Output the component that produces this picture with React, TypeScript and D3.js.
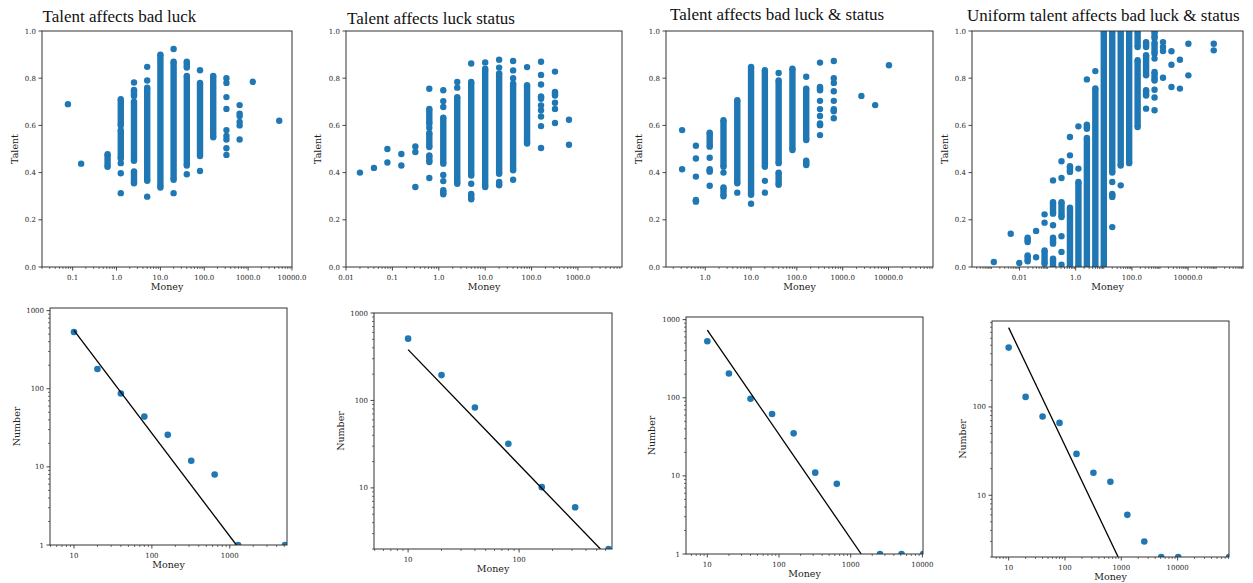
import React from "react";
import * as d3 from "d3";

// talent scatter columns: [money, talent] for a single dot, [money, low, high] for a dense run of dots
type Col = number[];

const badLuckTalent: Col[] = [
  [0.078, 0.69], [0.156, 0.438], [0.625, 0.425, 0.478],
  [1.25, 0.6, 0.711], [1.25, 0.46, 0.58], [1.25, 0.44], [1.25, 0.397], [1.25, 0.313],
  [2.5, 0.782], [2.5, 0.725, 0.75], [2.5, 0.45, 0.7], [2.5, 0.355, 0.405],
  [5, 0.848], [5, 0.79], [5, 0.365, 0.76], [5, 0.298],
  [10, 0.337, 0.9],
  [20, 0.924], [20, 0.37, 0.87], [20, 0.313],
  [40, 0.845, 0.87], [40, 0.43, 0.81], [40, 0.393],
  [80, 0.834], [80, 0.47, 0.78], [80, 0.407],
  [160, 0.55, 0.81],
  [320, 0.8], [320, 0.78], [320, 0.72], [320, 0.67], [320, 0.58], [320, 0.555], [320, 0.54], [320, 0.503], [320, 0.475],
  [640, 0.686], [640, 0.65], [640, 0.64], [640, 0.615], [640, 0.6], [640, 0.54],
  [1280, 0.785], [5120, 0.62],
];

const statusTalent: Col[] = [
  [0.02, 0.4], [0.04, 0.42], [0.078, 0.5], [0.078, 0.443], [0.156, 0.479], [0.156, 0.43],
  [0.3125, 0.511], [0.3125, 0.487], [0.3125, 0.339],
  [0.625, 0.755], [0.625, 0.607, 0.67], [0.625, 0.59], [0.625, 0.508, 0.568], [0.625, 0.445, 0.473], [0.625, 0.377],
  [1.25, 0.749], [1.25, 0.703], [1.25, 0.678], [1.25, 0.438, 0.633], [1.25, 0.39], [1.25, 0.364], [1.25, 0.308, 0.325],
  [2.5, 0.784], [2.5, 0.76], [2.5, 0.353, 0.72],
  [5, 0.862], [5, 0.388, 0.784], [5, 0.353], [5, 0.287, 0.31],
  [10, 0.867], [10, 0.339, 0.84],
  [20, 0.878], [20, 0.845], [20, 0.395, 0.82], [20, 0.346, 0.36],
  [40, 0.873], [40, 0.833], [40, 0.8], [40, 0.41, 0.777], [40, 0.37],
  [80, 0.847], [80, 0.523, 0.77],
  [160, 0.87], [160, 0.814], [160, 0.773], [160, 0.713, 0.723], [160, 0.685], [160, 0.664], [160, 0.638], [160, 0.597], [160, 0.504],
  [320, 0.828], [320, 0.727, 0.742], [320, 0.696], [320, 0.67], [320, 0.61],
  [640, 0.624], [640, 0.518],
];

const bothTalent: Col[] = [
  [0.3125, 0.58], [0.3125, 0.414],
  [0.625, 0.514], [0.625, 0.46], [0.625, 0.383], [0.625, 0.277, 0.284],
  [1.25, 0.51, 0.569], [1.25, 0.463], [1.25, 0.404, 0.414], [1.25, 0.344],
  [2.5, 0.425, 0.622], [2.5, 0.4], [2.5, 0.3, 0.337],
  [5, 0.355, 0.707], [5, 0.315],
  [10, 0.306, 0.848], [10, 0.268],
  [20, 0.425, 0.834], [20, 0.365], [20, 0.315],
  [40, 0.822], [40, 0.44, 0.79], [40, 0.348, 0.4],
  [80, 0.496, 0.84],
  [160, 0.806], [160, 0.538, 0.756], [160, 0.432, 0.45],
  [320, 0.866], [320, 0.749, 0.763], [320, 0.704], [320, 0.669], [320, 0.64], [320, 0.601, 0.608], [320, 0.559],
  [640, 0.873], [640, 0.8], [640, 0.78], [640, 0.745], [640, 0.704], [640, 0.66, 0.669], [640, 0.63],
  [2560, 0.725], [5120, 0.686], [10240, 0.855],
];

const uniformTalent: Col[] = [
  [0.00122, 0.021], [0.00488, 0.141], [0.00977, 0.017],
  [0.0195, 0.106, 0.124], [0.0195, 0.024, 0.049],
  [0.039, 0.153], [0.039, 0.041],
  [0.078, 0.223], [0.078, 0.188], [0.078, 0.014, 0.07],
  [0.156, 0.367], [0.156, 0.226, 0.275], [0.156, 0.177], [0.156, 0.099, 0.124], [0.156, 0, 0.035],
  [0.3125, 0.448], [0.3125, 0.377], [0.3125, 0.212, 0.275], [0.3125, 0.13], [0.3125, 0.064], [0.3125, 0.01],
  [0.625, 0.551], [0.625, 0.473], [0.625, 0.403, 0.427], [0.625, 0, 0.251],
  [1.25, 0.596], [1.25, 0.417], [1.25, 0, 0.36],
  [2.5, 0.795], [2.5, 0.586, 0.603], [2.5, 0, 0.547],
  [5, 0.83], [5, 0, 0.757],
  [10, 0, 1],
  [20, 0.4, 1], [20, 0.36], [20, 0.297, 0.31], [20, 0.169],
  [40, 0.43, 1], [40, 0.346],
  [80, 0.44, 1],
  [160, 0.932, 1], [160, 0.593, 0.876],
  [320, 0.932, 0.953], [320, 0.812, 0.897], [320, 0.727, 0.749], [320, 0.671],
  [640, 0.97, 1], [640, 0.904, 0.95], [640, 0.883], [640, 0.79, 0.826], [640, 0.751], [640, 0.718], [640, 0.664],
  [1280, 0.953], [1280, 0.932], [1280, 0.915], [1280, 0.802],
  [2560, 0.914], [2560, 0.857], [2560, 0.763],
  [5120, 0.878], [5120, 0.756],
  [10240, 0.946], [10240, 0.812],
  [81920, 0.946], [81920, 0.918],
];

// distribution panels: money bins, number of agents, power-law fit end points
const badLuckMoney = [10, 20, 40, 80, 160, 320, 640, 1280, 5120];
const badLuckCount = [532, 179, 87, 44, 25.7, 12, 8, 1, 1];
const badLuckFit = [[10, 560], [1216, 1]];

const statusMoney = [10, 20, 40, 80, 160, 320, 640];
const statusCount = [509, 195, 83, 32, 10.2, 6, 2];
const statusFit = [[10, 381], [540, 2]];

const bothMoney = [10, 20, 40, 80, 160, 320, 640, 2560, 5120, 10240];
const bothCount = [528, 204, 97, 62, 35, 11, 7.9, 1, 1, 1];
const bothFit = [[10, 731], [1403, 1]];

const uniformMoney = [10, 20, 40, 80, 160, 320, 640, 1280, 2560, 5120, 10240, 81920];
const uniformCount = [470, 130, 78, 66, 29.4, 18, 14.2, 6, 3, 2, 2, 2];
const uniformFit = [[10, 791], [879, 2]];

const titles = [
  "Talent affects bad luck",
  "Talent affects luck status",
  "Talent affects bad luck & status",
  "Uniform talent affects bad luck & status",
];
const talentTicks = [0, 0.2, 0.4, 0.6, 0.8, 1.0];

const BLUE = "#1f77b4";
const INK = "#333333";
const TICK_FONT = "'DejaVu Serif', serif";
const R = 3.2;

function logTicks(lo: number, hi: number, step = 1) {
  const major: number[] = [];
  const minor: number[] = [];
  for (let e = Math.floor(Math.log10(lo)); e <= Math.ceil(Math.log10(hi)); e++) {
    for (let k = 1; k <= 9; k++) {
      const v = +(k * Math.pow(10, e)).toPrecision(12);
      if (v < lo * 0.999 || v > hi * 1.001) continue;
      if (k === 1 && ((e % step) + step) % step === 0) major.push(v);
      else minor.push(v);
    }
  }
  return { major, minor };
}

type Box = { x0: number; x1: number; y0: number; y1: number };

function Frame({ id, box, xs, ys, xMajor, xMinor, yMajor, yMinor, fmtX, fmtY, children }: any) {
  const { x0, x1, y0, y1 } = box as Box;
  return (
    <g>
      <clipPath id={id}>
        <rect x={x0} y={y0} width={x1 - x0} height={y1 - y0} />
      </clipPath>
      <g clipPath={`url(#${id})`}>{children}</g>
      <rect x={x0} y={y0} width={x1 - x0} height={y1 - y0} fill="none" stroke={INK} strokeWidth={1} />
      {xMinor.map((v: number, i: number) => (
        <line key={"xm" + i} x1={xs(v)} x2={xs(v)} y1={y1} y2={y1 + 2} stroke={INK} strokeWidth={0.7} />
      ))}
      {xMajor.map((v: number, i: number) => (
        <g key={"xM" + i}>
          <line x1={xs(v)} x2={xs(v)} y1={y1} y2={y1 + 3.5} stroke={INK} strokeWidth={0.9} />
          <text x={xs(v)} y={y1 + 12.5} textAnchor="middle" fontSize={7} fontFamily={TICK_FONT} fill="#262626">
            {fmtX(v)}
          </text>
        </g>
      ))}
      {yMinor.map((v: number, i: number) => (
        <line key={"ym" + i} x1={x0 - 2} x2={x0} y1={ys(v)} y2={ys(v)} stroke={INK} strokeWidth={0.7} />
      ))}
      {yMajor.map((v: number, i: number) => (
        <g key={"yM" + i}>
          <line x1={x0 - 3.5} x2={x0} y1={ys(v)} y2={ys(v)} stroke={INK} strokeWidth={0.9} />
          <text x={x0 - 6} y={ys(v) + 2.5} textAnchor="end" fontSize={7} fontFamily={TICK_FONT} fill="#262626">
            {fmtY(v)}
          </text>
        </g>
      ))}
    </g>
  );
}

const topPanels = [
  { cols: badLuckTalent, box: { x0: 42, x1: 292, y0: 31, y1: 267 }, xd: [0.02, 10000], step: 1, tx: 42.5, ty: 22, lx: 15 },
  { cols: statusTalent, box: { x0: 346, x1: 622, y0: 31, y1: 267 }, xd: [0.01, 8900], step: 1, tx: 347, ty: 23.5, lx: 318 },
  { cols: bothTalent, box: { x0: 666, x1: 933, y0: 31, y1: 267 }, xd: [0.139, 93700], step: 1, tx: 670, ty: 20, lx: 639 },
  { cols: uniformTalent, box: { x0: 972, x1: 1243, y0: 31, y1: 267 }, xd: [0.000204, 900000], step: 2, tx: 967, ty: 20.5, lx: 945 },
];

const bottomPanels = [
  { money: badLuckMoney, count: badLuckCount, fit: badLuckFit, box: { x0: 50, x1: 287, y0: 308, y1: 545 }, xd: [4.92, 5430], yd: [1, 1080], lx: 17, ly: 568 },
  { money: statusMoney, count: statusCount, fit: statusFit, box: { x0: 374, x1: 612, y0: 313, y1: 549 }, xd: [4.93, 687], yd: [2, 1000], lx: 341, ly: 572 },
  { money: bothMoney, count: bothCount, fit: bothFit, box: { x0: 686, x1: 923, y0: 317, y1: 554 }, xd: [5.04, 10200], yd: [1, 1080], lx: 652, ly: 577 },
  { money: uniformMoney, count: uniformCount, fit: uniformFit, box: { x0: 992, x1: 1229, y0: 321, y1: 557 }, xd: [5.06, 81700], yd: [2, 940], lx: 963, ly: 580 },
];

const fmtMoneyTop = (v: number) => (v < 1 ? String(v) : v.toFixed(1));

export default function App() {
  return (
    <svg width={1253} height={583} style={{ position: "absolute", left: 0, top: 0, background: "#fff" }}>
      {topPanels.map((p, i) => {
        const { x0, x1, y0, y1 } = p.box;
        const xs = d3.scaleLog().domain(p.xd).range([x0, x1]);
        const ys = d3.scaleLinear().domain([0, 1]).range([y1, y0]);
        const t = logTicks(p.xd[0], p.xd[1], p.step);
        return (
          <g key={"top" + i}>
            <Frame id={"clipT" + i} box={p.box} xs={xs} ys={ys} xMajor={t.major} xMinor={t.minor}
              yMajor={talentTicks} yMinor={[]} fmtX={fmtMoneyTop} fmtY={(v: number) => v.toFixed(1)}>
              {p.cols.map((c, j) => {
                const lo = c[1];
                const hi = c.length > 2 ? c[2] : c[1];
                const cx = xs(c[0]);
                return (
                  <g key={j} fill={BLUE}>
                    {hi > lo && <rect x={cx - R} y={ys(hi)} width={2 * R} height={ys(lo) - ys(hi)} />}
                    <circle cx={cx} cy={ys(lo)} r={R} />
                    {hi > lo && <circle cx={cx} cy={ys(hi)} r={R} />}
                  </g>
                );
              })}
            </Frame>
            <text x={p.tx} y={p.ty} fontSize={17} fontFamily="'Liberation Serif', serif" fill="#111">
              {titles[i]}
            </text>
            <text x={(x0 + x1) / 2} y={290} textAnchor="middle" fontSize={9.5} fontFamily={TICK_FONT} fill="#222">
              Money
            </text>
            <text transform={`translate(${p.lx},${(y0 + y1) / 2}) rotate(-90)`} textAnchor="middle" dy={3}
              fontSize={9.5} fontFamily={TICK_FONT} fill="#222">
              Talent
            </text>
          </g>
        );
      })}
      {bottomPanels.map((p, i) => {
        const { x0, x1, y0, y1 } = p.box;
        const xs = d3.scaleLog().domain(p.xd).range([x0, x1]);
        const ys = d3.scaleLog().domain(p.yd).range([y1, y0]);
        const tx = logTicks(p.xd[0], p.xd[1]);
        const ty = logTicks(p.yd[0], p.yd[1]);
        const line = d3.line<number[]>().x((d) => xs(d[0])).y((d) => ys(d[1]));
        return (
          <g key={"bot" + i}>
            <Frame id={"clipB" + i} box={p.box} xs={xs} ys={ys} xMajor={tx.major} xMinor={tx.minor}
              yMajor={ty.major} yMinor={ty.minor} fmtX={(v: number) => String(v)} fmtY={(v: number) => String(v)}>
              {p.money.map((m, j) => (
                <circle key={j} cx={xs(m)} cy={ys(p.count[j])} r={3.3} fill={BLUE} />
              ))}
              <path d={line(p.fit) || ""} fill="none" stroke="#000" strokeWidth={1.3} />
            </Frame>
            <text x={(x0 + x1) / 2} y={p.ly} textAnchor="middle" fontSize={9.5} fontFamily={TICK_FONT} fill="#222">
              Money
            </text>
            <text transform={`translate(${p.lx},${(y0 + y1) / 2}) rotate(-90)`} textAnchor="middle" dy={3}
              fontSize={9.5} fontFamily={TICK_FONT} fill="#222">
              Number
            </text>
          </g>
        );
      })}
    </svg>
  );
}
